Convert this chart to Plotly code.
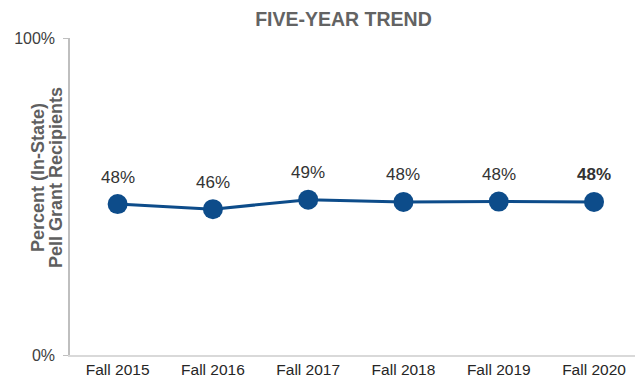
import plotly.graph_objects as go

categories = ["Fall 2015", "Fall 2016", "Fall 2017", "Fall 2018", "Fall 2019", "Fall 2020"]
values = [47.6, 46.0, 49.0, 48.3, 48.4, 48.3]
labels = ["48%", "46%", "49%", "48%", "48%", "<b>48%</b>"]
y_tick_vals = [0, 100]
y_tick_text = ["0%", "100%"]
y_title_lines = ["Percent (In-State)", "Pell Grant Recipients"]

FONT = "Arial, Liberation Sans, sans-serif"
BLUE = "#0d4c8a"

fig = go.Figure()
fig.add_trace(go.Scatter(
    x=list(range(len(categories))), y=values, mode="lines+markers",
    line=dict(color=BLUE, width=3),
    marker=dict(color=BLUE, size=20),
    hoverinfo="skip",
))

for i, (v, t) in enumerate(zip(values, labels)):
    fig.add_annotation(x=i, y=v, text=t, showarrow=False, yshift=27,
                       font=dict(family=FONT, size=17, color="#333333"))

for xpix, line in zip([38, 56], y_title_lines):
    fig.add_annotation(xref="paper", yref="paper", x=(xpix - 70) / 565, y=0.558,
                       text="<b>" + line + "</b>",
                       textangle=-90, showarrow=False, xanchor="center", yanchor="middle",
                       font=dict(family=FONT, size=18, color="#5f5f5f"))

fig.update_layout(
    width=635, height=383,
    margin=dict(l=70, r=0, t=38, b=28, autoexpand=False),
    paper_bgcolor="white", plot_bgcolor="white",
    showlegend=False,
    title=dict(text="<b>FIVE-YEAR TREND</b>", x=343.5 / 635, xref="container", xanchor="center",
               y=1 - 19 / 383, yref="container", yanchor="middle",
               font=dict(family="Arial Black, Liberation Sans, sans-serif", size=19.5, color="#636363")),
    xaxis=dict(range=[-0.5, 5.43], tickvals=list(range(len(categories))), ticktext=categories,
               showgrid=False, zeroline=False, showline=True, linecolor="#d9d9d9", linewidth=1.5,
               ticks="", tickfont=dict(family=FONT, size=15.5, color="#262626")),
    yaxis=dict(range=[0, 100], tickvals=y_tick_vals, ticktext=y_tick_text,
               showgrid=False, zeroline=False, showline=True, linecolor="#bfbfbf", linewidth=1.5,
               ticks="outside", ticklen=5, tickcolor="#bfbfbf", ticklabelstandoff=5,
               tickfont=dict(family=FONT, size=16, color="#404040")),
)

fig.write_html("out.html", config={"displayModeBar": False},
               post_script="document.body.style.margin='0';document.body.style.padding='0';")
